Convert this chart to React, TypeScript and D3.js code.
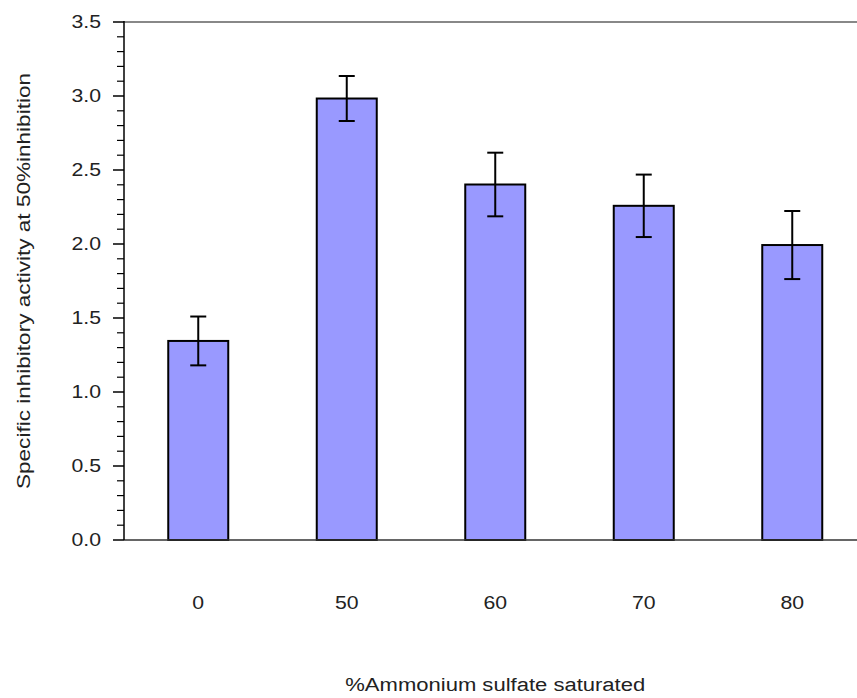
import React from "react";
import * as d3 from "d3";

const categories = ["0", "50", "60", "70", "80"];
const values = [1.345, 2.983, 2.402, 2.258, 1.993];
const errors = [0.165, 0.152, 0.215, 0.211, 0.23];
const yTicks = [0, 0.5, 1.0, 1.5, 2.0, 2.5, 3.0, 3.5];

const W = 857;
const H = 698;
const left = 124;
const right = 866.5;
const top = 22;
const bottom = 540;
const font = "'Liberation Sans', Arial, sans-serif";
const sx = 1.18;

export default function App() {
  const y = d3.scaleLinear().domain([0, 3.5]).range([bottom, top]);
  const minor = d3.range(0, 36).map((i) => i / 10).filter((v) => Math.abs(v * 2 - Math.round(v * 2)) > 1e-6);
  const band = (right - left) / categories.length;
  const bw = 60;
  const cx = (i: number) => left + band * (i + 0.5);

  return (
    <svg width={W} height={H} style={{ position: "absolute", left: 0, top: 0, background: "#fff" }}>
      <rect x={0} y={0} width={W} height={H} fill="#fff" />
      <line x1={left} x2={W} y1={y(3.5)} y2={y(3.5)} stroke="#888" strokeWidth={2} />
      {values.map((v, i) => (
        <rect
          key={"b" + i}
          x={cx(i) - bw / 2}
          y={y(v)}
          width={bw}
          height={y(0) - y(v)}
          fill="#9999FF"
          stroke="#000"
          strokeWidth={2}
        />
      ))}
      {values.map((v, i) => (
        <g key={"e" + i} stroke="#000" strokeWidth={2}>
          <line x1={cx(i)} x2={cx(i)} y1={y(v + errors[i])} y2={y(v - errors[i])} />
          <line x1={cx(i) - 8} x2={cx(i) + 8} y1={y(v + errors[i])} y2={y(v + errors[i])} />
          <line x1={cx(i) - 8} x2={cx(i) + 8} y1={y(v - errors[i])} y2={y(v - errors[i])} />
        </g>
      ))}
      <line x1={left} x2={W} y1={bottom} y2={bottom} stroke="#333" strokeWidth={1.5} />
      <line x1={left} x2={left} y1={top - 1} y2={bottom} stroke="#000" strokeWidth={1.5} />
      {yTicks.map((t) => (
        <g key={"t" + t}>
          <line x1={left - 11} x2={left} y1={y(t)} y2={y(t)} stroke="#000" strokeWidth={1.5} />
          <text
            transform={`translate(101, ${y(t)}) scale(${sx},1)`}
            dy="0.35em"
            textAnchor="end"
            fontFamily={font}
            fontSize={18}
            fill="#222"
          >
            {t.toFixed(1)}
          </text>
        </g>
      ))}
      {minor.map((t) => (
        <line key={"m" + t} x1={left - 7} x2={left} y1={y(t)} y2={y(t)} stroke="#000" strokeWidth={1.2} />
      ))}
      {categories.map((c, i) => (
        <text
          key={"c" + c}
          transform={`translate(${cx(i)}, 603) scale(${sx},1)`}
          dy="0.35em"
          textAnchor="middle"
          fontFamily={font}
          fontSize={18}
          fill="#222"
        >
          {c}
        </text>
      ))}
      <text
        x={(left + right) / 2 - 150}
        y={685}
        dy="0.35em"
        textLength={300}
        lengthAdjust="spacingAndGlyphs"
        fontFamily={font}
        fontSize={18}
        fill="#222"
      >
        %Ammonium sulfate saturated
      </text>
      <text
        transform={`translate(24, ${(top + bottom) / 2}) rotate(-90)`}
        x={-208}
        dy="0.35em"
        textLength={416}
        lengthAdjust="spacingAndGlyphs"
        fontFamily={font}
        fontSize={18.5}
        fill="#222"
      >
        Specific inhibitory activity at 50%inhibition
      </text>
    </svg>
  );
}
